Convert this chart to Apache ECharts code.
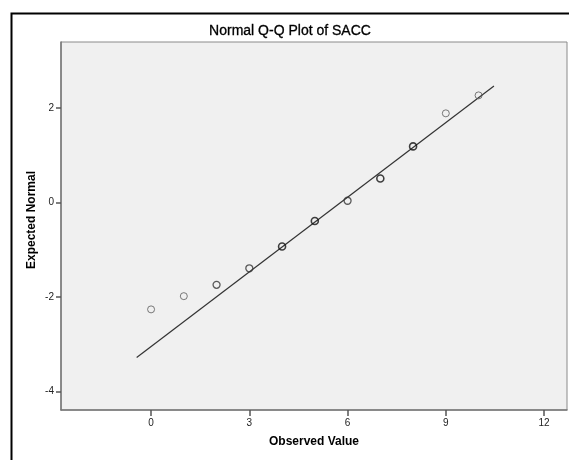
<!DOCTYPE html>
<html>
<head>
<meta charset="utf-8">
<style>
  html, body { margin: 0; padding: 0; background: #ffffff; }
  #chart { width: 569px; height: 460px; }
</style>
<script src="https://cdn.jsdelivr.net/npm/echarts@6/dist/echarts.min.js"></script>
</head>
<body>
<div id="chart"></div>
<script>
// Observed SACC values and their expected normal quantiles
const observed = [0, 1, 2, 3, 4, 5, 6, 7, 8, 9, 10];
const expectedNormal = [-2.26, -1.98, -1.74, -1.39, -0.93, -0.39, 0.04, 0.51, 1.19, 1.89, 2.27];
// number of cases sharing each observed value
const caseCount = [1, 1, 2, 2, 3, 3, 2, 3, 3, 1, 1];

// reference line end points
const refLineX = [-0.44, 10.47];
const refLineY = [-3.28, 2.47];

// axis tick labels
const xTicks = [0, 3, 6, 9, 12];
const yTicks = [-4, -2, 0, 2];

const FONT = '"Liberation Sans", Arial, sans-serif';

const pointData = observed.map((x, i) => {
  const n = caseCount[i];
  return {
    value: [x, expectedNormal[i]],
    itemStyle: {
      color: 'rgba(0,0,0,0)',
      borderColor: n >= 3 ? '#111111' : (n === 2 ? '#333333' : '#5a5a5a'),
      borderWidth: n >= 3 ? 1.6 : (n === 2 ? 1.3 : 1)
    }
  };
});

const chart = echarts.init(document.getElementById('chart'), null, { renderer: 'canvas' });

chart.setOption({
  animation: false,
  backgroundColor: '#ffffff',
  textStyle: { fontFamily: FONT },
  graphic: [
    {
      type: 'rect',
      left: 9, top: 11,
      shape: { width: 620, height: 520 },
      style: { fill: 'none', stroke: '#000000', lineWidth: 2 },
      z: 0
    },
    {
      type: 'text',
      x: 290, y: 31,
      style: {
        text: 'Normal Q-Q Plot of SACC',
        font: '14px ' + FONT,
        fill: '#000000',
        stroke: '#000000',
        lineWidth: 0.3,
        textAlign: 'center',
        textVerticalAlign: 'middle'
      }
    },
    {
      type: 'text',
      x: 32, y: 220,
      rotation: Math.PI / 2,
      style: {
        text: 'Expected Normal',
        font: 'bold 12px ' + FONT,
        fill: '#000000',
        textAlign: 'center',
        textVerticalAlign: 'middle'
      }
    },
    {
      type: 'text',
      x: 314, y: 442,
      style: {
        text: 'Observed Value',
        font: 'bold 12px ' + FONT,
        fill: '#000000',
        textAlign: 'center',
        textVerticalAlign: 'middle'
      }
    }
  ],
  grid: {
    left: 61, right: 2, top: 42, bottom: 50,
    show: true,
    backgroundColor: '#f0f0f0',
    borderColor: '#8a8a8a',
    borderWidth: 1
  },
  xAxis: {
    type: 'value',
    min: -2.75, max: 12.7,
    axisLine: { show: true, onZero: false, lineStyle: { color: '#777777', width: 1.5 } },
    axisTick: { show: true, customValues: xTicks, length: 6, lineStyle: { color: '#555555', width: 1.5 } },
    axisLabel: { customValues: xTicks, color: '#222222', fontSize: 10, margin: 8, fontFamily: FONT },
    splitLine: { show: false }
  },
  yAxis: {
    type: 'value',
    min: -4.39, max: 3.4,
    axisLine: { show: true, onZero: false, lineStyle: { color: '#777777', width: 1.5 } },
    axisTick: { show: true, customValues: yTicks, length: 5, lineStyle: { color: '#555555', width: 1.5 } },
    axisLabel: { customValues: yTicks, color: '#222222', fontSize: 10, margin: 7, fontFamily: FONT },
    splitLine: { show: false }
  },
  series: [
    {
      type: 'line',
      data: refLineX.map((x, i) => [x, refLineY[i]]),
      showSymbol: false,
      symbol: 'none',
      lineStyle: { color: '#333333', width: 1.2 },
      z: 2
    },
    {
      type: 'scatter',
      data: pointData,
      symbol: 'circle',
      symbolSize: 7,
      z: 3
    }
  ]
});
</script>
</body>
</html>
